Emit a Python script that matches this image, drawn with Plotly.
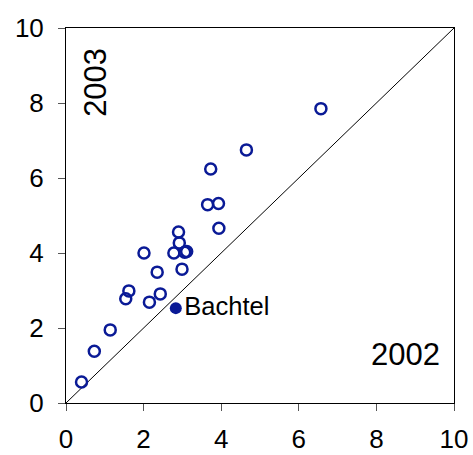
import plotly.graph_objects as go

# Values per site: 2002 (x) vs 2003 (y)
x2002 = [0.40, 0.73, 1.14, 1.54, 1.62, 2.15, 2.43, 2.35, 2.01, 2.78, 3.06, 3.11,
         2.92, 2.90, 2.99, 3.65, 3.93, 3.94, 3.73, 4.65, 6.57]
y2003 = [0.56, 1.38, 1.95, 2.78, 2.99, 2.69, 2.91, 3.49, 4.00, 4.00, 4.02, 4.04,
         4.27, 4.56, 3.57, 5.29, 5.32, 4.66, 6.24, 6.75, 7.85]

highlight_name = "Bachtel"
highlight_x = [2.83]
highlight_y = [2.53]

diag = [0, 10]
ticks = [0, 2, 4, 6, 8, 10]

blue = "#0a1a96"
font = "Liberation Sans, Arial, sans-serif"

fig = go.Figure()

# 1:1 reference line
fig.add_trace(go.Scatter(x=diag, y=diag, mode="lines",
                         line=dict(color="black", width=1), hoverinfo="skip"))

# Other sites (open circles)
fig.add_trace(go.Scatter(x=x2002, y=y2003, mode="markers",
                         marker=dict(symbol="circle-open", size=11, color=blue,
                                     line=dict(width=2.5, color=blue))))

# Highlighted site (filled)
fig.add_trace(go.Scatter(x=highlight_x, y=highlight_y, mode="markers+text",
                         text=[highlight_name], textposition="middle right",
                         textfont=dict(family=font, size=25.5, color="black"),
                         marker=dict(symbol="circle", size=12, color=blue)))

axis_common = dict(range=[0, 10], tickvals=ticks, showgrid=False, zeroline=False,
                   showline=True, linecolor="black", linewidth=1, mirror=True,
                   ticks="outside", ticklen=7, tickcolor="#555", automargin=False,
                   tickfont=dict(family=font, size=26, color="black"))

fig.update_xaxes(**axis_common, ticklabelstandoff=6)
fig.update_yaxes(**axis_common, ticklabelstandoff=9)

fig.add_annotation(x=0.76, y=8.55, text="2003", showarrow=False, textangle=-90,
                   font=dict(family=font, size=31, color="black"))
fig.add_annotation(x=8.76, y=1.29, text="2002", showarrow=False,
                   font=dict(family=font, size=31, color="black"))

fig.update_layout(width=473, height=455, showlegend=False,
                  plot_bgcolor="white", paper_bgcolor="white",
                  margin=dict(l=66, r=19, t=28, b=52))

fig.write_html("out.html")
